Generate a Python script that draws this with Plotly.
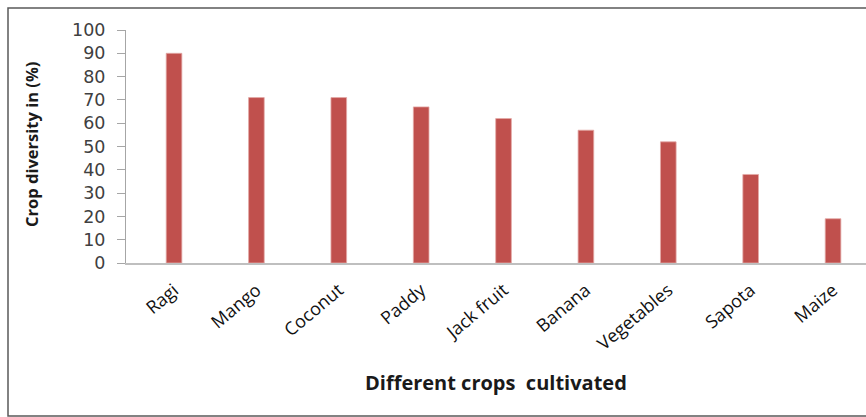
import plotly.graph_objects as go

# Crop diversity by crop type
crops = ["Ragi", "Mango", "Coconut", "Paddy", "Jack fruit", "Banana",
         "Vegetables", "Sapota", "Maize"]
diversity_pct = [90, 71, 71, 67, 62, 57, 52, 38, 19]
y_ticks = [0, 10, 20, 30, 40, 50, 60, 70, 80, 90, 100]

W, H = 866, 417
ML, MR, MT, MB = 126, 0, 30, 154
PW, PH = W - ML - MR, H - MT - MB


def px_to_paper_x(px):
    return (px - ML) / PW


def px_to_paper_y(py):
    return (H - MB - py) / PH


fig = go.Figure(
    go.Bar(
        x=list(range(len(crops))),
        y=diversity_pct,
        width=0.19,
        marker=dict(color="#C0504D", line=dict(color="#E3A9A7", width=0.8)),
        hoverinfo="x+y",
    )
)

fig.update_layout(
    width=W,
    height=H,
    margin=dict(l=ML, r=MR, t=MT, b=MB, autoexpand=False),
    paper_bgcolor="white",
    plot_bgcolor="white",
    showlegend=False,
    font=dict(family="Open Sans", color="#1a1a1a"),
    xaxis=dict(
        range=[-0.583, 8.40],
        tickmode="array",
        tickvals=list(range(len(crops))),
        ticktext=crops,
        tickangle=-40,
        tickfont=dict(family="Open Sans", size=18, color="#111111"),
        ticklabelstandoff=8,
        showline=True,
        linecolor="#BFBFBF",
        linewidth=1.5,
        ticks="",
        showgrid=False,
        zeroline=False,
        automargin=False,
    ),
    yaxis=dict(
        range=[0, 100],
        tickmode="array",
        tickvals=y_ticks,
        tickfont=dict(family="DejaVu Sans", size=17.5, color="#404040"),
        ticks="outside",
        ticklen=8,
        tickcolor="#A6A6A6",
        ticklabelstandoff=8,
        showline=True,
        linecolor="#A6A6A6",
        linewidth=1,
        showgrid=False,
        zeroline=False,
        automargin=False,
    ),
    annotations=[
        dict(
            text="Different crops\u00a0 cultivated",
            xref="paper", yref="paper",
            x=px_to_paper_x(496), y=px_to_paper_y(382),
            xanchor="center", yanchor="middle",
            showarrow=False,
            font=dict(family="Open Sans", size=20, color="#1a1a1a", weight="bold"),
        ),
        dict(
            text="Crop diversity in (%)",
            xref="paper", yref="paper",
            x=px_to_paper_x(31), y=px_to_paper_y(145),
            xanchor="center", yanchor="middle",
            textangle=-90,
            showarrow=False,
            font=dict(family="Open Sans", size=16.5, color="#1a1a1a", weight="bold"),
        ),
    ],
    shapes=[
        dict(
            type="rect", xref="paper", yref="paper",
            x0=px_to_paper_x(8), x1=px_to_paper_x(880),
            y0=px_to_paper_y(416), y1=px_to_paper_y(8),
            line=dict(color="#595959", width=1.5),
            fillcolor="rgba(0,0,0,0)",
            layer="below",
        )
    ],
)

fig.write_html("out.html")
